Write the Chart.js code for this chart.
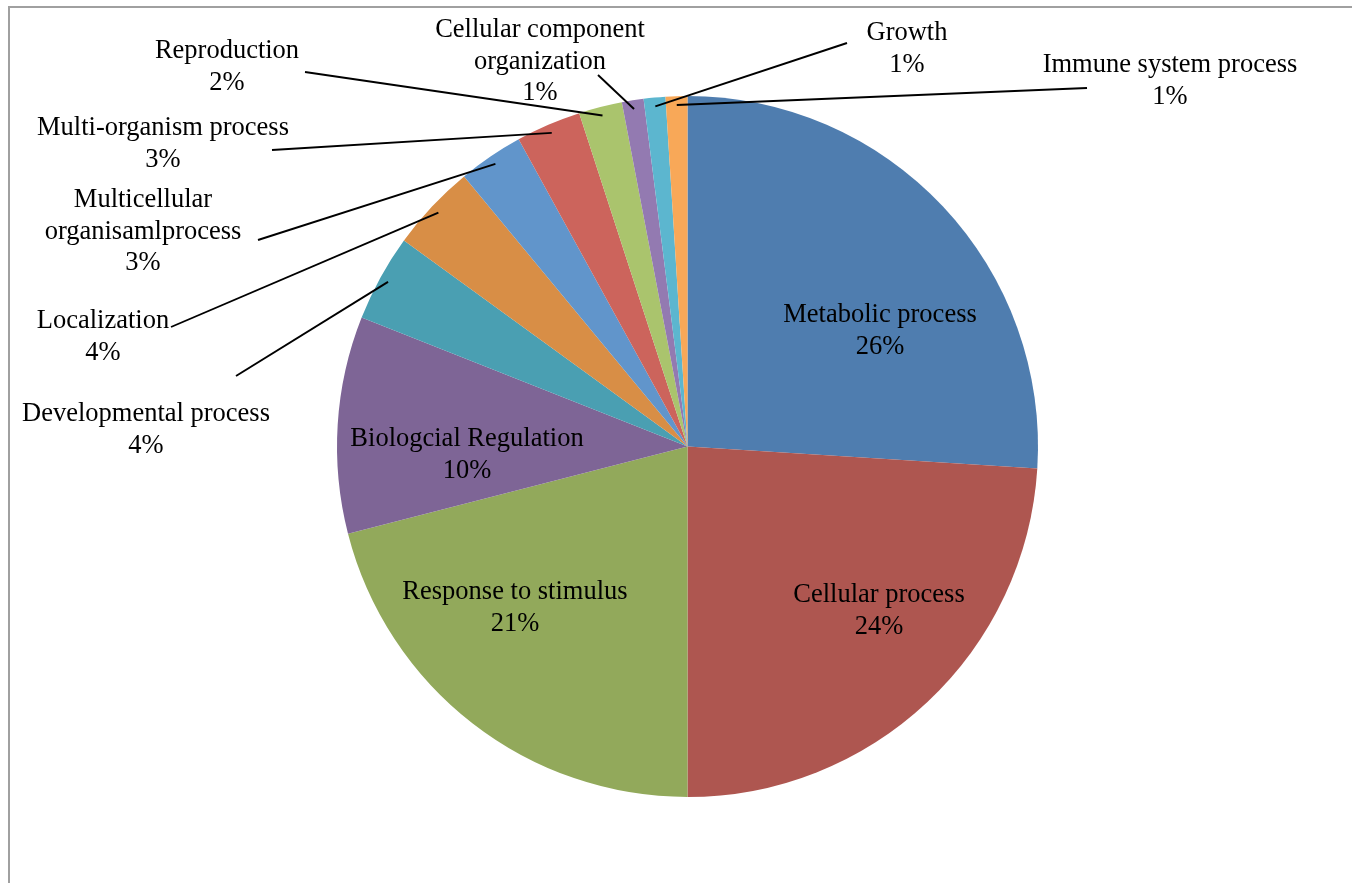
<!DOCTYPE html>
<html>
<head>
<meta charset="utf-8">
<title>Biological process</title>
<script src="https://cdn.jsdelivr.net/npm/chart.js@4.4.1/dist/chart.umd.min.js"></script>
<style>
  html, body { margin: 0; padding: 0; background: #fff; overflow: hidden; }
  canvas { display: block; }
</style>
</head>
<body>
<canvas id="pieChart" width="1352" height="883"></canvas>
<script>
// GO biological process categories, clockwise from 12 o'clock
const categories = [
    'Metabolic process',
    'Cellular process',
    'Response to stimulus',
    'Biologcial Regulation',
    'Developmental process',
    'Localization',
    'Multicellular\norganisamlprocess',
    'Multi-organism process',
    'Reproduction',
    'Cellular component\norganization',
    'Growth',
    'Immune system process'
];
const percents = [26, 24, 21, 10, 4, 4, 3, 3, 2, 1, 1, 1];

const sliceColors = [
    '#4f7daf', '#ae5650', '#92a95b', '#7e6596', '#4a9fb2', '#d88e46',
    '#6195cb', '#cc645c', '#aac46d', '#937ab1', '#5cb6cf', '#f8a858'
];

// where each label sits: [center x, first baseline]
const labelAnchors = [
    [880, 322], [879, 602], [515, 599], [467, 446],
    [146, 421], [103, 328], [143, 207], [163, 135],
    [227, 58], [540, 37], [907, 40], [1170, 72]
];
// outer end of the leader line (null = label sits inside its slice)
const leaderEnds = [
    null, null, null, null,
    [236, 376], [171, 327], [258, 240], [272, 150],
    [305, 72], [598, 75], [847, 43], [1087, 88]
];

const FONT = '26.5px "Liberation Serif", "Times New Roman", serif';
const LINE_H = 31.5;

const labelPlugin = {
    id: 'pieLabels',
    beforeDraw(chart) {
        const ctx = chart.ctx;
        // grey frame round the plot
        ctx.save();
        ctx.strokeStyle = '#a0a0a0';
        ctx.lineWidth = 2;
        ctx.beginPath();
        ctx.moveTo(9, chart.height + 2);
        ctx.lineTo(9, 7);
        ctx.lineTo(chart.width + 2, 7);
        ctx.stroke();
        ctx.restore();
    },
    afterDraw(chart) {
        const ctx = chart.ctx;
        const arcs = chart.getDatasetMeta(0).data;
        ctx.save();

        // leader lines from the slice to its label
        ctx.strokeStyle = '#000';
        ctx.lineWidth = 1.9;
        arcs.forEach((arc, i) => {
            const end = leaderEnds[i];
            if (!end) return;
            const p = arc.getProps(['x', 'y', 'startAngle', 'endAngle', 'outerRadius'], true);
            const mid = (p.startAngle + p.endAngle) / 2;
            const r = p.outerRadius * 0.975;
            ctx.beginPath();
            ctx.moveTo(p.x + Math.cos(mid) * r, p.y + Math.sin(mid) * r);
            ctx.lineTo(end[0], end[1]);
            ctx.stroke();
        });

        // category name + percentage
        ctx.fillStyle = '#000';
        ctx.font = FONT;
        ctx.textAlign = 'center';
        ctx.textBaseline = 'alphabetic';
        categories.forEach((name, i) => {
            const lines = name.split('\n').concat(percents[i] + '%');
            const [x, y] = labelAnchors[i];
            lines.forEach((t, k) => ctx.fillText(t, x, y + k * LINE_H));
        });
        ctx.restore();
    }
};

new Chart(document.getElementById('pieChart'), {
    type: 'pie',
    data: {
        labels: categories,
        datasets: [{
            data: percents,
            backgroundColor: sliceColors,
            borderWidth: 0
        }]
    },
    options: {
        responsive: false,
        animation: false,
        devicePixelRatio: 1,
        layout: {
            padding: { left: 337, right: 314, top: 96, bottom: 86 }
        },
        plugins: {
            legend: { display: false },
            tooltip: { enabled: false }
        }
    },
    plugins: [labelPlugin]
});
</script>
</body>
</html>
